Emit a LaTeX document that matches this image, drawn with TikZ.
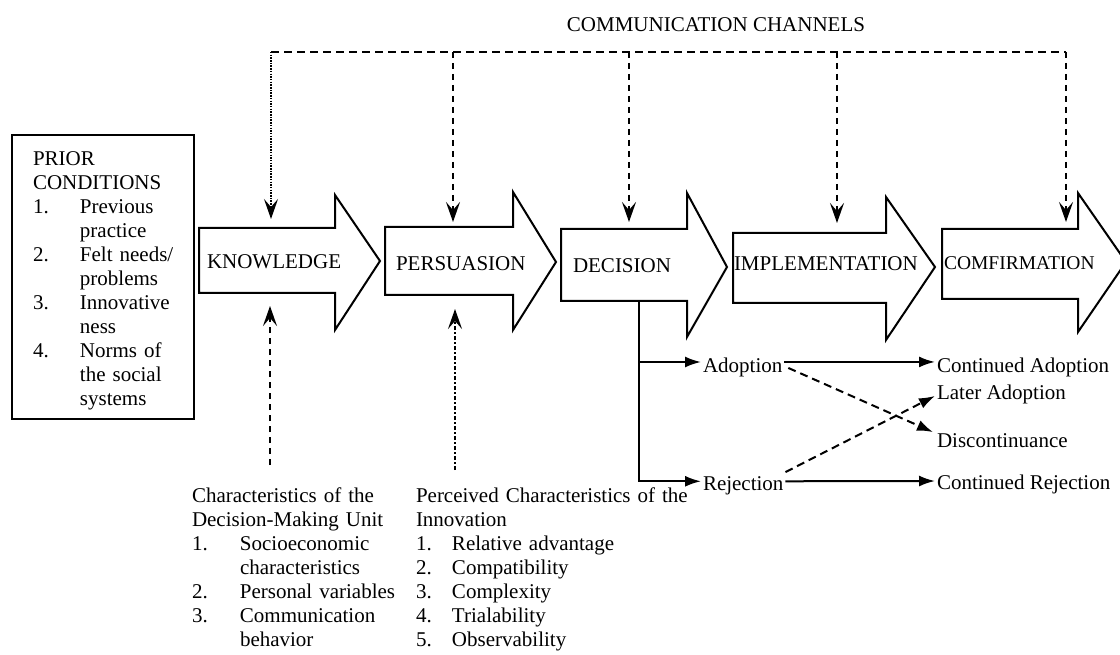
\documentclass[tikz,border=0pt]{standalone}
\usepackage{fontspec}
\setmainfont{Liberation Serif}
\usetikzlibrary{arrows.meta}
\begin{document}
\begin{tikzpicture}[x=1pt,y=-1pt,
  every node/.style={font=\fontsize{21}{24}\selectfont, inner sep=0pt, outer sep=0pt},
  blockarrow/.style={draw, line width=2pt, line join=miter, fill=white},
  stagelabel/.style={anchor=base west},
  listblock/.style={anchor=base west, align=left, text width=#1},
  vtip/.style={-{Stealth[length=20pt,width=14pt,inset=8pt]}},
  chan/.style={line width=2pt, dash pattern=on 8pt off 5pt},
  drop/.style={vtip, line width=2pt, dash pattern=on 6pt off 5pt},
  dotdrop/.style={vtip, line width=1.4pt, dash pattern=on 1.5pt off 1.2pt},
  flow/.style={line width=2pt, -{Latex[length=16pt,width=11pt]}},
  flowdash/.style={flow, dash pattern=on 8pt off 5pt},
]
\useasboundingbox (0,0) rectangle (1120,655);

% prior conditions box
\draw[line width=2pt] (12,135) rectangle (194,419);
\node[listblock=160pt] (prior) at (33,166) {PRIOR\\CONDITIONS\\
  \makebox[47pt][l]{1.}Previous\\\hspace*{47pt}practice\\
  \makebox[47pt][l]{2.}Felt needs/\\\hspace*{47pt}problems\\
  \makebox[47pt][l]{3.}Innovative\\\hspace*{47pt}ness\\
  \makebox[47pt][l]{4.}Norms of\\\hspace*{47pt}the social\\\hspace*{47pt}systems};

% the five stages
\draw[blockarrow] (199,228) -- (335,228) -- (335,195) -- (380,261) -- (335,330) -- (335,293) -- (199,293) -- cycle;
\draw[blockarrow] (385,227) -- (513,227) -- (513,192) -- (556,262) -- (513,330) -- (513,295) -- (385,295) -- cycle;
\draw[blockarrow] (561,229) -- (687,229) -- (687,193) -- (727,267) -- (687,337) -- (687,301) -- (561,301) -- cycle;
\draw[blockarrow] (733,233) -- (886,233) -- (886,197) -- (935,267) -- (886,340) -- (886,303) -- (733,303) -- cycle;
\draw[blockarrow] (942,229) -- (1078,229) -- (1078,193) -- (1126,262) -- (1078,332) -- (1078,299) -- (942,299) -- cycle;

\node[stagelabel] (know) at (207,269) {KNOWLEDGE};
\node[stagelabel] (pers) at (396,271) {PERSUASION};
\node[stagelabel] (deci) at (573,273) {DECISION};
\node[stagelabel] (impl) at (734,271) {IMPLEMENTATION};
\node[stagelabel, font=\fontsize{19.5}{24}\selectfont] (conf) at (944,270) {COMFIRMATION};

% communication channels
\node[anchor=base] (comm) at (716,32) {COMMUNICATION CHANNELS};
\coordinate (c1) at (271,52);
\coordinate (c2) at (453,52);
\coordinate (c3) at (629,52);
\coordinate (c4) at (837,52);
\coordinate (c5) at (1066,52);
\coordinate (t1) at (271,219);
\coordinate (t2) at (453,222);
\coordinate (t3) at (629,222);
\coordinate (t4) at (837,223);
\coordinate (t5) at (1066,222);
\draw[chan] (c1) -- (c5);
\draw[dotdrop] (c1) -- (t1);
\draw[drop] (c2) -- (t2);
\draw[drop] (c3) -- (t3);
\draw[drop] (c4) -- (t4);
\draw[drop] (c5) -- (t5);

% characteristics feeding knowledge and persuasion
\node[listblock=230pt] (dmu) at (192,502) {Characteristics of the\\Decision-Making Unit\\
  \makebox[48pt][l]{1.}Socioeconomic\\\hspace*{48pt}characteristics\\
  \makebox[48pt][l]{2.}Personal variables\\
  \makebox[48pt][l]{3.}Communication\\\hspace*{48pt}behavior};
\node[listblock=290pt] (inno) at (416,502) {Perceived Characteristics of the\\Innovation\\
  \makebox[36pt][l]{1.}Relative advantage\\
  \makebox[36pt][l]{2.}Compatibility\\
  \makebox[36pt][l]{3.}Complexity\\
  \makebox[36pt][l]{4.}Trialability\\
  \makebox[36pt][l]{5.}Observability};
\coordinate (b1) at (270,465);
\coordinate (k1) at (270,306);
\coordinate (b2) at (455,470);
\coordinate (k2) at (455,309);
\draw[drop] (b1) -- (k1);
\draw[drop, line width=1.8pt, dash pattern=on 4pt off 2pt on 2pt off 2pt] (b2) -- (k2);

% decision outcomes
\node[anchor=base west, inner sep=2pt] (adopt) at (701,372) {Adoption};
\node[anchor=base west, inner sep=2pt] (reject) at (701,490) {Rejection};
\node[anchor=base west, inner sep=2pt] (contA) at (935,372) {Continued Adoption};
\node[anchor=base west, inner sep=2pt] (later) at (935,399) {Later Adoption};
\node[anchor=base west, inner sep=2pt] (disc) at (935,447) {Discontinuance};
\node[anchor=base west, inner sep=2pt] (contR) at (935,489) {Continued Rejection};

\coordinate (dbot) at (639,301);
\draw[flow] (dbot) |- ([yshift=4pt]reject.west);
\draw[flow] (dbot |- 0,362) -- (adopt.west |- 0,362);
\draw[flow] ([yshift=5pt]adopt.east) -- ([yshift=5pt]contA.west);
\draw[flow] ([yshift=4pt]reject.east) -- (contR.west |- 0,481);
\draw[flowdash] ([xshift=4pt,yshift=-1pt]adopt.east) -- ([xshift=-2pt,yshift=-1pt]disc.north west);
\draw[flowdash] ([yshift=2pt]reject.north east) -- ([yshift=-2pt]later.west);
\end{tikzpicture}
\end{document}
